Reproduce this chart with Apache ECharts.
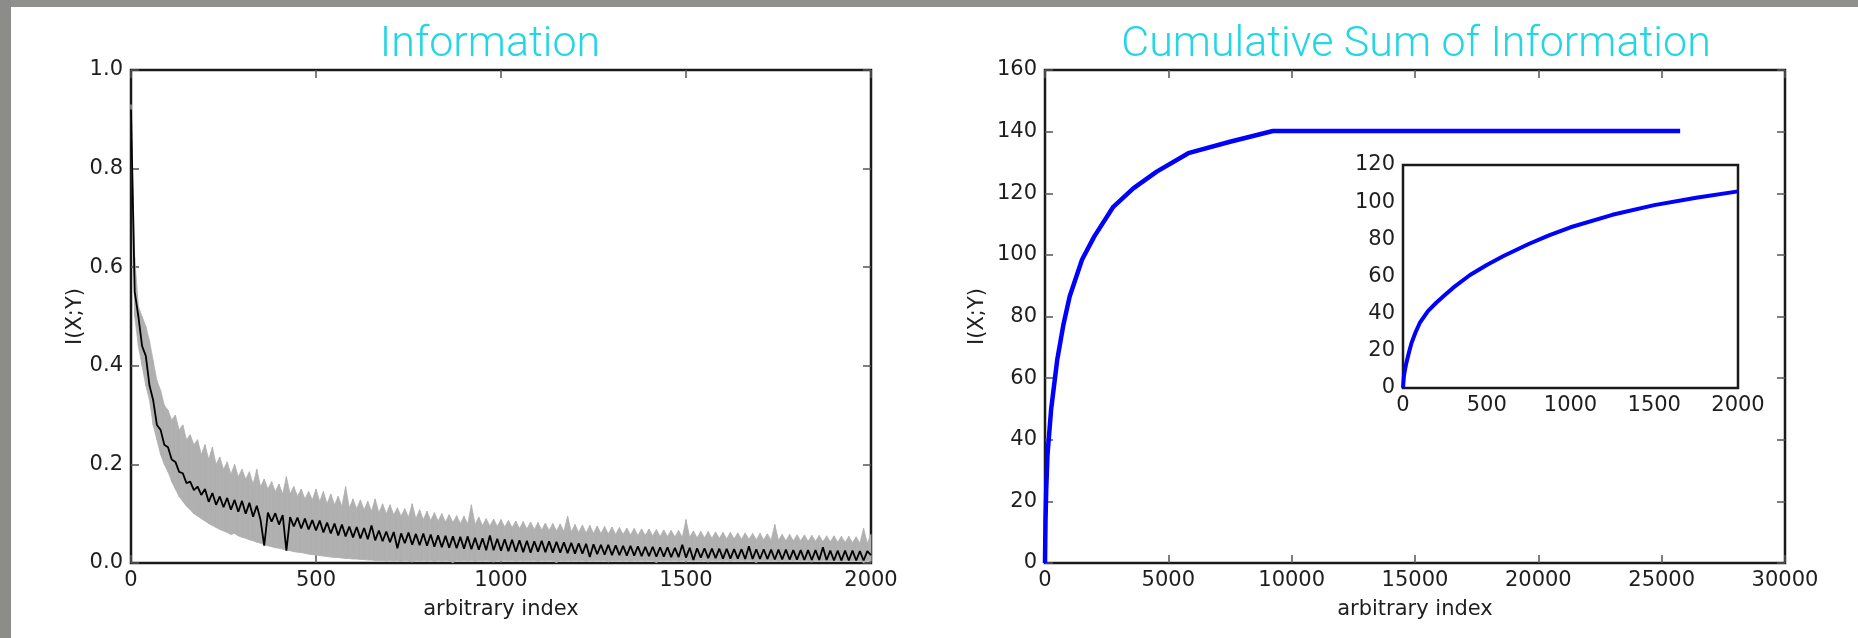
<!DOCTYPE html>
<html>
<head>
<meta charset="utf-8">
<title>Information</title>
<script src="https://cdn.jsdelivr.net/npm/echarts@6/dist/echarts.min.js"></script>
<style>
  html, body { margin: 0; padding: 0; background: #fff; }
  #chart { width: 1858px; height: 638px; }
</style>
</head>
<body>
<div id="chart"></div>
<script>
var infoStep = 10
var infoMean = [
  0.92, 0.55, 0.50, 0.44, 0.42, 0.36, 0.33, 0.28, 0.27, 0.24,
  0.235, 0.21, 0.205, 0.185, 0.182, 0.162, 0.165, 0.148, 0.155, 0.138,
  0.150, 0.124, 0.142, 0.118, 0.135, 0.113, 0.132, 0.108, 0.128, 0.104,
  0.126, 0.100, 0.122, 0.094, 0.116, 0.088, 0.035, 0.102, 0.084, 0.101,
  0.078, 0.097, 0.025, 0.093, 0.074, 0.092, 0.070, 0.090, 0.068, 0.087,
  0.066, 0.086, 0.062, 0.082, 0.060, 0.080, 0.056, 0.078, 0.054, 0.074,
  0.052, 0.073, 0.050, 0.071, 0.048, 0.076, 0.046, 0.066, 0.044, 0.064,
  0.042, 0.063, 0.030, 0.060, 0.040, 0.062, 0.037, 0.059, 0.036, 0.060,
  0.035, 0.058, 0.033, 0.056, 0.032, 0.055, 0.031, 0.054, 0.030, 0.053,
  0.029, 0.054, 0.028, 0.051, 0.027, 0.050, 0.026, 0.056, 0.026, 0.049,
  0.025, 0.048, 0.024, 0.047, 0.023, 0.046, 0.022, 0.045, 0.021, 0.044,
  0.023, 0.045, 0.022, 0.044, 0.021, 0.043, 0.021, 0.042, 0.020, 0.041,
  0.019, 0.040, 0.019, 0.039, 0.012, 0.038, 0.018, 0.037, 0.017, 0.037,
  0.016, 0.036, 0.016, 0.035, 0.015, 0.035, 0.015, 0.034, 0.014, 0.033,
  0.014, 0.033, 0.013, 0.032, 0.013, 0.032, 0.012, 0.031, 0.012, 0.037,
  0.011, 0.031, 0.006, 0.030, 0.011, 0.030, 0.010, 0.029, 0.010, 0.029,
  0.009, 0.029, 0.009, 0.028, 0.009, 0.028, 0.008, 0.034, 0.008, 0.028,
  0.008, 0.028, 0.008, 0.027, 0.007, 0.027, 0.007, 0.027, 0.007, 0.026,
  0.007, 0.026, 0.006, 0.026, 0.006, 0.026, 0.006, 0.032, 0.006, 0.025,
  0.005, 0.025, 0.005, 0.025, 0.005, 0.025, 0.005, 0.024, 0.005, 0.024,
  0.016
]
var infoUpper = [
  0.93, 0.62, 0.52, 0.50, 0.48, 0.45, 0.41, 0.37, 0.35, 0.32,
  0.31, 0.29, 0.30, 0.27, 0.28, 0.25, 0.26, 0.24, 0.25, 0.22,
  0.24, 0.21, 0.235, 0.20, 0.215, 0.19, 0.205, 0.18, 0.20, 0.175,
  0.19, 0.17, 0.185, 0.16, 0.19, 0.155, 0.17, 0.15, 0.165, 0.145,
  0.16, 0.14, 0.175, 0.14, 0.155, 0.135, 0.15, 0.13, 0.145, 0.128,
  0.15, 0.125, 0.145, 0.12, 0.14, 0.118, 0.135, 0.115, 0.155, 0.112,
  0.13, 0.11, 0.128, 0.108, 0.125, 0.105, 0.13, 0.102, 0.12, 0.10,
  0.118, 0.098, 0.112, 0.095, 0.11, 0.093, 0.12, 0.09, 0.108, 0.088,
  0.105, 0.086, 0.102, 0.085, 0.10, 0.083, 0.098, 0.082, 0.096, 0.08,
  0.095, 0.079, 0.118, 0.078, 0.093, 0.076, 0.09, 0.075, 0.089, 0.074,
  0.088, 0.073, 0.086, 0.072, 0.085, 0.07, 0.084, 0.069, 0.083, 0.068,
  0.082, 0.067, 0.081, 0.066, 0.08, 0.065, 0.079, 0.064, 0.095, 0.063,
  0.078, 0.062, 0.077, 0.061, 0.076, 0.06, 0.075, 0.06, 0.074, 0.059,
  0.073, 0.058, 0.072, 0.058, 0.071, 0.057, 0.07, 0.056, 0.069, 0.056,
  0.069, 0.055, 0.068, 0.054, 0.067, 0.054, 0.066, 0.053, 0.066, 0.052,
  0.088, 0.052, 0.065, 0.051, 0.064, 0.051, 0.064, 0.05, 0.063, 0.05,
  0.062, 0.049, 0.062, 0.049, 0.061, 0.048, 0.061, 0.048, 0.06, 0.047,
  0.06, 0.047, 0.059, 0.046, 0.078, 0.046, 0.058, 0.045, 0.058, 0.045,
  0.057, 0.045, 0.057, 0.044, 0.056, 0.044, 0.056, 0.043, 0.055, 0.043,
  0.055, 0.042, 0.054, 0.042, 0.054, 0.041, 0.053, 0.04, 0.07, 0.04,
  0.058
]
var infoLower = [
  0.90, 0.50, 0.44, 0.40, 0.36, 0.33, 0.28, 0.25, 0.22, 0.20,
  0.185, 0.165, 0.15, 0.135, 0.125, 0.115, 0.108, 0.10, 0.095, 0.09,
  0.085, 0.08, 0.076, 0.072, 0.068, 0.065, 0.062, 0.058, 0.06, 0.055,
  0.052, 0.05, 0.047, 0.045, 0.042, 0.04, 0.037, 0.035, 0.033, 0.031,
  0.03, 0.028, 0.026, 0.025, 0.023, 0.022, 0.021, 0.02, 0.018, 0.017,
  0.016, 0.015, 0.014, 0.013, 0.012, 0.011, 0.011, 0.01, 0.009, 0.009,
  0.008, 0.008, 0.007, 0.007, 0.006, 0.006, 0.005, 0.005, 0.005, 0.004,
  0.005, 0.004, 0.005, 0.003, 0.005, 0.004, 0.002, 0.005, 0.004, 0.005,
  0.004, 0.005, 0.003, 0.005, 0.004, 0.005, 0.004, 0.001, 0.005, 0.004,
  0.005, 0.004, 0.005, 0.003, 0.005, 0.004, 0.005, 0.004, 0.002, 0.005,
  0.004, 0.005, 0.004, 0.005, 0.003, 0.005, 0.004, 0.005, 0.004, 0.005,
  0.003, 0.005, 0.004, 0.005, 0.004, 0.001, 0.005, 0.004, 0.005, 0.004,
  0.005, 0.004, 0.005, 0.003, 0.005, 0.004, 0.005, 0.004, 0.005, 0.002,
  0.005, 0.004, 0.005, 0.004, 0.005, 0.003, 0.005, 0.004, 0.005, 0.004,
  0.005, 0.004, 0.001, 0.005, 0.004, 0.005, 0.004, 0.005, 0.003, 0.005,
  0.004, 0.005, 0.004, 0.005, 0.004, 0.005, 0.002, 0.005, 0.004, 0.005,
  0.004, 0.005, 0.003, 0.005, 0.004, 0.005, 0.004, 0.005, 0.004, 0.001,
  0.005, 0.004, 0.005, 0.004, 0.005, 0.003, 0.005, 0.004, 0.005, 0.004,
  0.005, 0.004, 0.005, 0.004, 0.002, 0.005, 0.004, 0.005, 0.004, 0.005,
  0.004, 0.005, 0.003, 0.005, 0.004, 0.005, 0.004, 0.005, 0.001, 0.005,
  0.004
]

// right panel: cumulative sum
var cumIndex = [0, 20, 50, 100, 250, 500, 750, 1000, 1500, 2000, 2770, 3580, 4530, 5810, 7500, 9240, 25750]
var cumValue = [0, 13.5, 24, 35, 50, 66.2, 77.5, 86.5, 98.4, 106, 115.6, 121.6, 127, 133, 136.7, 140.2, 140.2]
// inset: first 2000 indices
var insetIndex = [0, 5, 10, 20, 35, 50, 75, 100, 150, 200, 250, 300, 400, 500, 600, 750, 875, 1000, 1250, 1500, 1750, 2000]
var insetValue = [0, 6, 9, 13.5, 19, 24, 30, 35, 41.5, 46, 50, 54, 60.8, 66.2, 71, 77.5, 82.3, 86.5, 93.2, 98.4, 102.4, 105.8]

var pairs = function (xs, ys) {
  return ys.map(function (v, i) { return [xs[i], v] })
}
var stepped = function (ys) {
  return ys.map(function (v, i) { return [i * infoStep, v] })
}
var bandData = infoUpper.map(function (v, i) { return [i * infoStep, v, infoLower[i]] })

var labelFont = { fontFamily: 'DejaVu Sans', fontSize: 21, color: '#1e1e1e' }
var tickStyle = { inside: true, length: 8, lineStyle: { color: '#555', width: 1.5 } }
var plain = function (v) { return String(v) }

// one bottom/left axis with labels, one top/right axis with ticks only
function xAxes (grid, max, interval, name) {
  return [{
    type: 'value', gridIndex: grid, min: 0, max: max, interval: interval,
    name: name, nameLocation: 'middle', nameGap: 36, nameTextStyle: labelFont,
    axisLine: { show: false, onZero: false }, axisTick: tickStyle, splitLine: { show: false },
    axisLabel: Object.assign({ margin: 7, formatter: plain }, labelFont)
  }, {
    type: 'value', gridIndex: grid, position: 'top', min: 0, max: max, interval: interval,
    axisLine: { show: false, onZero: false }, axisTick: tickStyle, splitLine: { show: false },
    axisLabel: { show: false }
  }]
}
function yAxes (grid, max, interval, name, gap, fmt) {
  return [{
    type: 'value', gridIndex: grid, min: 0, max: max, interval: interval,
    name: name, nameLocation: 'middle', nameGap: gap, nameRotate: 90, nameTextStyle: labelFont,
    axisLine: { show: false, onZero: false }, axisTick: tickStyle, splitLine: { show: false },
    axisLabel: Object.assign({ margin: 8, formatter: fmt || plain }, labelFont)
  }, {
    type: 'value', gridIndex: grid, position: 'right', min: 0, max: max, interval: interval,
    axisLine: { show: false, onZero: false }, axisTick: tickStyle, splitLine: { show: false },
    axisLabel: { show: false }
  }]
}

var gridBox = { show: true, borderColor: '#1a1a1a', borderWidth: 2.5, backgroundColor: '#fff' }

var myChart = echarts.init(document.getElementById('chart'))
myChart.setOption({
  animation: false,
  backgroundColor: '#fff',
  graphic: [
    { type: 'rect', shape: { x: 0, y: 0, width: 1858, height: 7 }, style: { fill: '#90918d' } },
    { type: 'rect', shape: { x: 0, y: 0, width: 11, height: 638 }, style: { fill: '#8c8d89' } },
    {
      type: 'text', x: 490, y: 45,
      style: { text: 'Information', font: '300 43px Roboto', fill: '#22d6e4', align: 'center', verticalAlign: 'middle' }
    },
    {
      type: 'text', x: 1416, y: 45,
      style: { text: 'Cumulative Sum of Information', font: '300 43px Roboto', fill: '#22d6e4', align: 'center', verticalAlign: 'middle' }
    }
  ],
  grid: [
    Object.assign({ left: 131, top: 70, width: 740, height: 493 }, gridBox),
    Object.assign({ left: 1045, top: 70, width: 740, height: 493 }, gridBox),
    Object.assign({ left: 1403, top: 165, width: 335, height: 223, z: 5 }, gridBox)
  ],
  xAxis: [].concat(
    xAxes(0, 2000, 500, 'arbitrary index'),
    xAxes(1, 30000, 5000, 'arbitrary index'),
    xAxes(2, 2000, 500, '')
  ),
  yAxis: [].concat(
    yAxes(0, 1, 0.2, 'I(X;Y)', 39, function (v) { return v.toFixed(1) }),
    yAxes(1, 160, 20, 'I(X;Y)', 57),
    yAxes(2, 120, 20, '', 0)
  ),
  series: [
    {
      // grey spread: one quad between each pair of neighbouring samples
      name: 'spread', type: 'custom', xAxisIndex: 0, yAxisIndex: 0,
      encode: { x: 0, y: [1, 2] },
      data: bandData,
      renderItem: function (params, api) {
        var i = params.dataIndex
        if (i >= bandData.length - 1) return null
        var a = bandData[i]
        var b = bandData[i + 1]
        return {
          type: 'polygon',
          shape: { points: [api.coord([a[0], a[1]]), api.coord([b[0], b[1]]), api.coord([b[0], b[2]]), api.coord([a[0], a[2]])] },
          style: { fill: '#b0b0b0', stroke: '#b0b0b0', lineWidth: 0.8 }
        }
      }
    },
    {
      name: 'information', type: 'line', xAxisIndex: 0, yAxisIndex: 0, z: 3,
      symbol: 'none', lineStyle: { color: '#000', width: 1.8 }, data: stepped(infoMean)
    },
    {
      name: 'cumulative', type: 'line', xAxisIndex: 2, yAxisIndex: 2,
      symbol: 'none', lineStyle: { color: '#0000ff', width: 4.5 }, data: pairs(cumIndex, cumValue)
    },
    {
      name: 'inset', type: 'line', xAxisIndex: 4, yAxisIndex: 4, z: 6,
      symbol: 'none', lineStyle: { color: '#0000ff', width: 4, join: 'round' }, data: pairs(insetIndex, insetValue)
    }
  ]
})
</script>
</body>
</html>
